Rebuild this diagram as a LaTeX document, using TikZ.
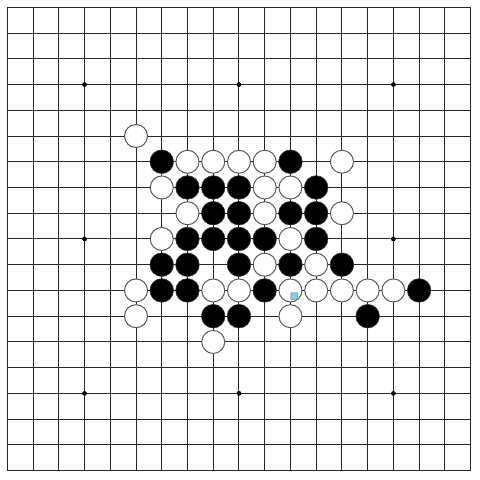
\documentclass[tikz,border=0pt]{standalone}
\definecolor{markfill}{RGB}{140,200,222}
\definecolor{markdraw}{RGB}{70,140,170}
\begin{document}
\begin{tikzpicture}[x=1pt,y=-1pt,
  gridline/.style={draw=black!85,line width=1pt},
  blackstone/.style={fill=black,draw=black!80,line width=0.6pt},
  whitestone/.style={fill=white,draw=black!65,line width=1pt},
  starpt/.style={fill=black},
  marker/.style={fill=markfill,draw=markdraw,line width=0.4pt}]
\def\s{25.74}
\def\o{7.3}
\useasboundingbox (0,0) rectangle (480,480);
\fill[white] (0,0) rectangle (480,480);
\foreach \i in {0,...,18}{
  \draw[gridline] ({\o+\i*\s},\o) -- ({\o+\i*\s},{\o+18*\s});
  \draw[gridline] (\o,{\o+\i*\s}) -- ({\o+18*\s},{\o+\i*\s});
}
\foreach \a in {3,9,15}\foreach \b in {3,9,15}
  \fill[starpt] ({\o+\a*\s},{\o+\b*\s}) circle (2.4pt);
\foreach \c/\r in {6/6,11/6,7/7,8/7,9/7,12/7,8/8,9/8,11/8,12/8,7/9,8/9,9/9,10/9,12/9,6/10,7/10,9/10,11/10,13/10,6/11,7/11,10/11,16/11,8/12,9/12,14/12}
  \draw[blackstone] ({\o+\c*\s},{\o+\r*\s}) circle (11.8pt);
\foreach \c/\r in {5/5,7/6,8/6,9/6,10/6,13/6,6/7,10/7,11/7,7/8,10/8,13/8,6/9,11/9,10/10,12/10,5/11,8/11,9/11,11/11,12/11,13/11,14/11,15/11,5/12,11/12,8/13}
  \draw[whitestone] ({\o+\c*\s},{\o+\r*\s}) circle (11.5pt);
\draw[marker] ({\o+11*\s+0.5},{\o+11*\s+2.3}) -- ++(7,0) -- ++(0,3) arc[start angle=0,end angle=90,radius=4,y=1pt] -- ++(-3,0) -- cycle;
\end{tikzpicture}
\end{document}
